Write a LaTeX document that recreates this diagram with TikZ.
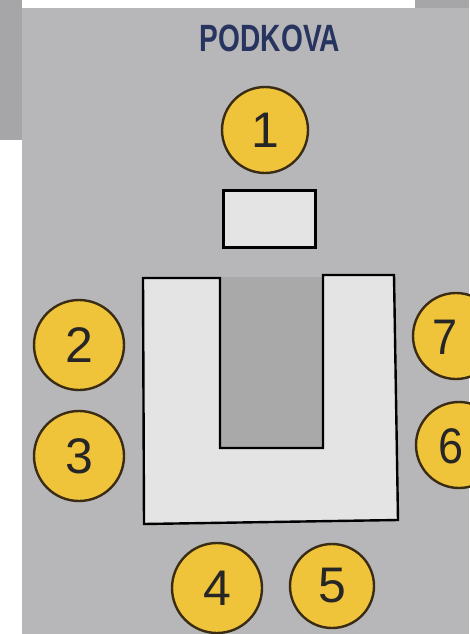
\documentclass[tikz,border=0pt]{standalone}
\usepackage{fontspec}
\setmainfont{Liberation Sans}
\definecolor{panel}{HTML}{B7B7B9}
\definecolor{sidegray}{HTML}{A6A6A8}
\definecolor{inner}{HTML}{A9A9AA}
\definecolor{tablefill}{HTML}{E4E4E4}
\definecolor{seatfill}{HTML}{F0C43A}
\definecolor{seatline}{HTML}{3A2C14}
\definecolor{titleblue}{HTML}{27345F}
\tikzset{
  seat/.style={circle, draw=seatline, line width=2.4pt, fill=seatfill, minimum size=86pt, inner sep=0pt,
    font=\fontsize{50}{50}\selectfont, text=black!85},
  seatnum/.style={inner sep=0pt, font=\fontsize{50}{50}\selectfont, text=black!85},
  tableline/.style={draw=black, line width=2.4pt, fill=tablefill, line join=miter}
}
\begin{document}
\begin{tikzpicture}[x=1pt,y=-1pt]
\useasboundingbox (0,0) rectangle (469,634);
% backgrounds
\fill[white] (0,0) rectangle (469,634);
\fill[sidegray] (0,0) rectangle (22,140);
\fill[sidegray] (415,0) rectangle (469,8);
\fill[panel] (22,8) rectangle (469,634);
% title
\node[text=titleblue, font=\fontsize{38}{38}\selectfont\bfseries, xscale=0.74] (title) at (270,38) {PODKOVA};
% head table
\node[draw=black, line width=2.4pt, fill=tablefill, minimum width=92pt, minimum height=57pt, inner sep=0pt] (head) at (269.5,219) {};
% U table
\fill[inner] (220,277) rectangle (323,448);
\draw[tableline] (143,278) -- (220,278) -- (220,448) -- (323,448) -- (323,275) -- (394,275) -- (398,520) -- (144,524) -- cycle;
% seats
\node[seat] (s1) at (265,130) {1};
\node[seat, minimum size=90pt] (s2) at (79,345) {2};
\node[seat, minimum size=90pt] (s3) at (79,456) {3};
\node[seat, minimum size=90pt] (s4) at (217,588) {4};
\node[seat, minimum size=84pt] (s5) at (332,586) {5};
\node[seat] (s7) at (456,336) {};
\node[seat] (s6) at (459,445) {};
\node[seatnum, xscale=0.9] (n7) at (445,337) {7};
\node[seatnum, xscale=0.9] (n6) at (451,446) {6};
\end{tikzpicture}
\end{document}
